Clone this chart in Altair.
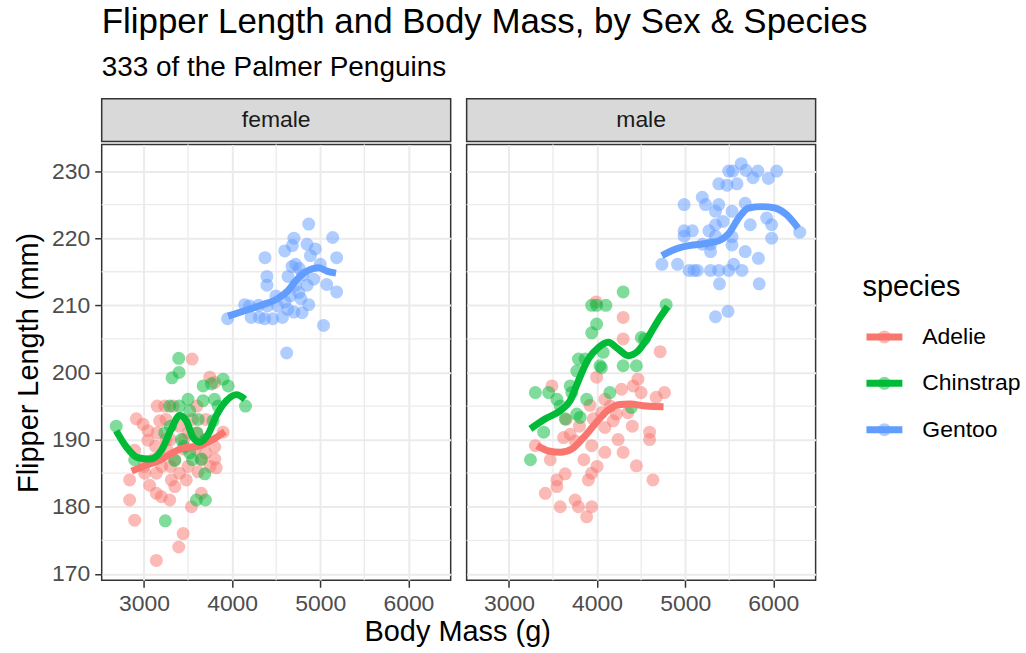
import altair as alt
import pandas as pd

species_names = ["Adelie", "Chinstrap", "Gentoo"]
species_colors = ["#F8766D", "#00BA38", "#619CFF"]

# ---- points: (body mass g, flipper mm) ----
female_adelie = [(3546,202),(3747,199.3),(3800,198.5),(2913,193.1),(2989,192.3),(3045,191.3),(3178,192.8),
    (3235,195),(3330,195),(3045,189.9),(2894,188.4),(3130,189),(3260,188.5),(3450,188.6),(3580,188.6),
    (3803,188.9),(3898,191.1),(3803,187.1),(3820,185.8),(2837,184),(3008,185),(3140,185),(3310,184),
    (3405,185),(3480,184),(3614,185.2),(3064,183.2),(3140,182),(3197,181.5),(3292,181),(2837,181),
    (3538,180),(2894,178),(3444,176),(3394,174),(3140,172),(3100,187),(3200,186),(3350,187),(3500,186),
    (3650,187),(3700,190),(3600,191),(3450,190),(3300,190),(3150,191),(3400,192),(3550,193),(3700,193),
    (3250,193),(3000,186),(3750,186),(3300,186),(3350,183),(3650,182),(3500,191),(3150,195),(3600,195),
    (3700,188),(3250,190)]
female_chinstrap = [(3394,202.1),(3398,200),(3318,199.2),(3671,198),(3898,199),(3955,198),(3765,198.3),
    (4152,195),(3841,195),(3292,195),(3500,196),(3670,195.8),(3519,194.3),(3614,193),(3784,192.8),
    (2685,192),(3235,191),(3424,190),(3519,188),(2894,187),(3349,186.9),(3652,187.1),(3690,184.9),
    (3595,181),(3697,181),(3242,177.9),(3700,190),(3450,189),(3550,187),(3300,192),(3800,196),
    (3400,195),(3600,191)]
female_gentoo = [(4869,222.1),(5141,220.1),(4701,220),(4683,218.9),(4850,219.1),(4944,218.4),(4597,218.1),
    (5186,217.1),(4373,217.1),(4888,217.4),(4720,216.1),(4680,215.8),(5000,216.1),(4760,215.5),
    (4395,214.3),(4395,213),(4634,214.3),(5074,213.1),(5186,212),(4925,213.9),(4850,213),(4757,211.9),
    (4496,211.4),(4660,211.4),(4869,210.1),(4780,211),(3948,208),(4142,210.1),(4198,209.9),(4216,208.2),
    (4310,208.2),(4370,208),(4460,208),(4571,208.2),(4630,209.4),(4700,209),(4794,208.9),(5037,207),
    (4619,202.9),(4400,209.9),(4515,209.9),(4300,210),(4600,210.5),(4720,213),(4800,214.5)]
male_adelie = [(3990,210.5),(4296,208.2),(4296,205),(4716,203.1),(4464,199),(4410,198),(3995,199.3),
    (3488,198),(4765,197),(4671,196.3),(4277,197.5),(4089,196),(3920,195.1),(4220,193.8),(4183,192.8),
    (4089,191.8),(3957,193.1),(4596,191.1),(4596,190),(4239,190),(4089,188.1),(4296,188.1),(3939,189.1),
    (3695,190.8),(3620,190.3),(3751,189.8),(3300,189.1),(3469,187),(4446,186.1),(4634,184),(3638,184.9),
    (3544,184),(3901,184),(3939,185),(3413,182),(3544,183),(3751,181),(3582,180),(3789,180),(3939,180),
    (3882,178.5),(4350,194),(4500,197),(4150,195),(3800,192),(3850,187),(4000,186),(4400,192),
    (3650,193),(4050,194)]
male_chinstrap = [(4296,212),(3939,210),(3995,210),(4100,210),(4784,210.1),(3995,207.2),(3939,205.9),
    (4502,205.2),(4540,205),(4070,203),(3789,202),(3864,202),(4033,201),(4296,201),(4446,201),
    (3695,198),(3770,200.2),(3300,197),(3451,197),(3544,196),(3714,197),(4145,197),(3882,196),
    (3582,195),(3770,193.8),(3638,193.1),(3808,193.3),(4389,194.8),(3394,191.1),(3244,187),(4050,200.7)]
male_gentoo = [(5636,231.1),(5494,230),(5540,230),(5689,230.1),(5824,230),(5770,229),(6038,230),
    (5944,228.9),(5381,228.1),(5588,228.1),(5475,227.9),(5194,226.1),(4988,225),(5231,225),(5381,225),
    (5681,225.2),(5344,224),(5531,224),(5925,223),(5981,222),(5738,222),(5344,222),(6300,220.9),
    (4988,221.1),(5081,221.1),(4988,220.3),(5269,221.1),(5531,220.2),(5344,220.3),(5288,219.1),
    (5981,220),(5194,219.1),(5288,218),(5531,219),(5681,218),(5831,217),(4736,216.1),(4913,216.1),
    (5044,215.2),(5138,215.2),(5288,215.2),(5381,215.2),(5494,215.2),(5550,216.1),(5644,215.2),
    (5389,213.2),(5839,213.2),(5344,208.3),(5486,209.1),(5100,215.2),(5430,222.5)]

# ---- smooth curves ----
female_adelie_smooth = [(2860,185.3),(3008,186.1),(3178,186.9),(3330,188.1),(3462,188.8),(3614,189),
    (3765,189.9),(3917,191.2)]
female_chinstrap_smooth = [(2685,191.3),(2800,188.9),(2932,187.3),(3064,187.1),(3197,188.4),(3311,191.6),
    (3405,193.6),(3481,192.8),(3557,190.3),(3633,189.6),(3728,190.8),(3822,193.6),(3936,195.8),
    (4050,196.7),(4145,196)]
female_gentoo_smooth = [(3955,208.4),(4142,209.2),(4328,210),(4515,211),(4627,212.1),(4739,213.9),
    (4850,215.1),(4981,215.6),(5074,215.1),(5179,214.8)]
male_adelie_smooth = [(3319,189.1),(3451,188.3),(3582,188.1),(3713,188.6),(3845,190.3),(3976,192.3),
    (4108,194.2),(4239,195.2),(4371,195.3),(4558,195),(4754,194.9)]
male_chinstrap_smooth = [(3244,191.6),(3413,193.1),(3582,194.3),(3695,195.8),(3789,198.8),(3901,202),
    (4014,203.7),(4127,204.5),(4239,203.5),(4352,202.5),(4464,203.2),(4577,205.2),(4690,207.7),
    (4802,209.8)]
male_gentoo_smooth = [(4736,217.4),(4894,218.4),(5044,218.9),(5231,219.2),(5381,219.6),(5494,220.7),
    (5606,223),(5719,224.5),(5869,224.7),(6019,224.5),(6150,223.5),(6281,221.5)]

x_major = [3000, 4000, 5000, 6000]
x_minor = [3500, 4500, 5500]
y_major = [170, 180, 190, 200, 210, 220, 230]
y_minor = [175, 185, 195, 205, 215, 225]


def to_frame(groups, col):
    rows = []
    for name, pts in zip(species_names, groups):
        for m, f in pts:
            rows.append({"mass": m, "flipper": f, col: name})
    return pd.DataFrame(rows)


W, H, SH = 350, 437, 43
xscale = alt.Scale(domain=[2520, 6480], nice=False, zero=False)
yscale = alt.Scale(domain=[169.05, 233.95], nice=False, zero=False)
pt_fill_scale = alt.Scale(domain=species_names, range=species_colors)
line_scale = alt.Scale(domain=species_names, range=species_colors)


def panel(pts_groups, smooth_groups, left):
    xaxis = alt.Axis(values=x_major, title="", format="d")
    if left:
        yaxis = alt.Axis(values=y_major, title="Flipper Length (mm)", format="d")
    else:
        yaxis = alt.Axis(values=y_major, title="", labels=False, ticks=False)
    xenc = lambda f: alt.X(f, scale=xscale, axis=xaxis)
    yenc = lambda f: alt.Y(f, scale=yscale, axis=yaxis)

    vgrid = alt.Chart(pd.DataFrame({"v": x_minor})).mark_rule(color="#EBEBEB", strokeWidth=1.3).encode(
        x=xenc("v:Q"))
    hgrid = alt.Chart(pd.DataFrame({"v": y_minor})).mark_rule(color="#EBEBEB", strokeWidth=1.3).encode(
        y=yenc("v:Q"))
    pts = alt.Chart(to_frame(pts_groups, "sp")).mark_circle(size=170, opacity=0.5).encode(
        x=xenc("mass:Q"), y=yenc("flipper:Q"),
        fill=alt.Fill("sp:N", scale=pt_fill_scale, legend=None))
    lines = alt.Chart(to_frame(smooth_groups, "species")).mark_line(
        strokeWidth=7, interpolate="monotone").encode(
        x=xenc("mass:Q"), y=yenc("flipper:Q"),
        color=alt.Color("species:N", scale=line_scale, legend=None),
        detail="species:N")
    return alt.layer(vgrid, hgrid, pts, lines).properties(width=W, height=H)


def strip(label):
    return alt.Chart(pd.DataFrame({"label": [label]})).mark_text(fontSize=23, color="#1A1A1A").encode(
        text="label:N", x=alt.value(W / 2), y=alt.value(SH / 2)
    ).properties(width=W, height=SH,
                 view=alt.ViewBackground(fill="#D9D9D9", stroke="#333333", strokeWidth=1.5))


# ---- legend drawn as its own small chart ----
LW, LH = 195, SH + H
leg_df = pd.DataFrame({"species": species_names})
leg_y = alt.Y("species:N", scale=alt.Scale(type="point", domain=species_names, range=[239, 332], padding=0),
              axis=None)
leg_title = alt.Chart(pd.DataFrame({"t": ["species"]})).mark_text(
    fontSize=29, color="#000000", align="left", baseline="middle").encode(
    text="t:N", x=alt.value(33), y=alt.value(189))
leg_pts = alt.Chart(leg_df).mark_circle(size=170, opacity=0.5).encode(
    x=alt.value(55), y=leg_y, color=alt.Color("species:N", scale=line_scale, legend=None))
leg_lines = alt.Chart(leg_df).mark_rule(strokeWidth=7).encode(
    x=alt.value(37), x2=alt.value(73), y=leg_y,
    color=alt.Color("species:N", scale=line_scale, legend=None))
leg_text = alt.Chart(leg_df).mark_text(fontSize=23, color="#000000", align="left", baseline="middle").encode(
    x=alt.value(93), y=leg_y, text="species:N")
legend_chart = alt.layer(leg_title, leg_pts, leg_lines, leg_text).properties(
    width=LW, height=LH, view=alt.ViewBackground(fill="white", strokeWidth=0))

left_col = alt.vconcat(strip("female"),
                       panel([female_adelie, female_chinstrap, female_gentoo],
                             [female_adelie_smooth, female_chinstrap_smooth, female_gentoo_smooth], True),
                       spacing=0)
right_col = alt.vconcat(strip("male"),
                        panel([male_adelie, male_chinstrap, male_gentoo],
                              [male_adelie_smooth, male_chinstrap_smooth, male_gentoo_smooth], False),
                        spacing=0)

xtitle = alt.Chart(pd.DataFrame({"t": ["Body Mass (g)"]})).mark_text(
    fontSize=29, color="#000000", baseline="alphabetic").encode(
    text="t:N", x=alt.value(W + 7), y=alt.value(25)
).properties(width=2 * W + 12, height=30,
             view=alt.ViewBackground(fill="white", strokeWidth=0))

chart = alt.vconcat(
    alt.hconcat(left_col, right_col, legend_chart, spacing=12),
    xtitle, spacing=0
).properties(
    title=alt.TitleParams(text="Flipper Length and Body Mass, by Sex & Species",
                          subtitle="333 of the Palmer Penguins", anchor="start", frame="group",
                          fontSize=35, subtitleFontSize=28, fontWeight="normal", color="#000000",
                          subtitleColor="#000000", offset=16, subtitlePadding=14),
    padding={"left": 13, "top": 4, "right": 2, "bottom": 2},
    background="white",
).configure(font="Liberation Sans").configure_view(
    stroke="#333333", strokeWidth=1.5, fill="white"
).configure_axis(
    domain=False, grid=True, gridColor="#EBEBEB", gridWidth=2,
    tickColor="#333333", tickWidth=1.5, tickSize=7,
    labelFontSize=23, labelColor="#4D4D4D", labelPadding=5,
    titleFontSize=29, titleFontWeight="normal", titleColor="#000000", titlePadding=8,
)

chart.save("out.html", embed_options={"renderer": "svg", "actions": False})
